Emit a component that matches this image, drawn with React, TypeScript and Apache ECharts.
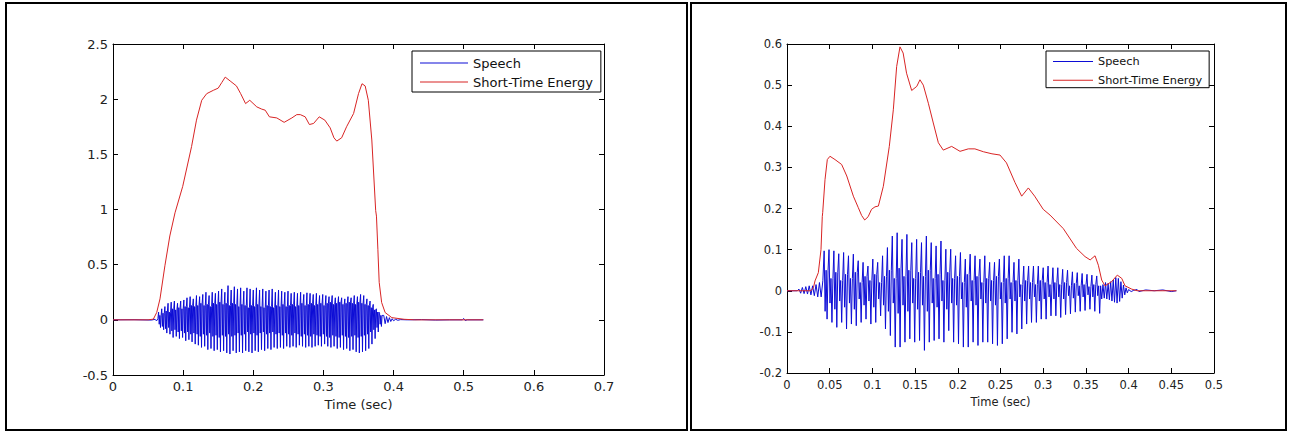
import React, { useEffect, useRef } from "react";
import * as echarts from "echarts";

// ---------- Left panel data ----------
const xTicksL = [0, 0.7, 0.1];
const yTicksL = [-0.5, 2.5, 0.5];

// Speech waveform (left): per pitch cycle peak / trough / inner band
const speechL_t0 = 0.065;
const speechL_period = 0.0045;
const speechL_tops = [
  0.07, 0.1, 0.12, 0.15, 0.16, 0.17, 0.15, 0.17, 0.18, 0.2, 0.21, 0.19, 0.22, 0.21, 0.23, 0.25, 0.22, 0.25, 0.24, 0.26,
  0.28, 0.25, 0.31, 0.27, 0.3, 0.28, 0.29, 0.26, 0.29, 0.28, 0.27, 0.29, 0.27, 0.28, 0.26, 0.27, 0.28, 0.25, 0.27, 0.26,
  0.25, 0.26, 0.24, 0.25, 0.24, 0.25, 0.23, 0.245, 0.24, 0.23, 0.24, 0.22, 0.23, 0.22, 0.21, 0.22, 0.2, 0.21, 0.2, 0.19,
  0.21, 0.2, 0.22, 0.21, 0.23, 0.22, 0.19, 0.17, 0.14, 0.1, 0.06,
];
const speechL_bottoms = [
  -0.07, -0.09, -0.12, -0.13, -0.16, -0.15, -0.17, -0.16, -0.19, -0.18, -0.2, -0.22, -0.23, -0.25, -0.24, -0.27, -0.26, -0.28, -0.27, -0.29,
  -0.28, -0.3, -0.31, -0.28, -0.3, -0.29, -0.3, -0.28, -0.29, -0.3, -0.28, -0.29, -0.27, -0.28, -0.26, -0.27, -0.25, -0.26, -0.25, -0.26,
  -0.24, -0.25, -0.24, -0.25, -0.23, -0.24, -0.25, -0.24, -0.25, -0.24, -0.23, -0.24, -0.22, -0.24, -0.25, -0.24, -0.26, -0.25, -0.27, -0.26,
  -0.28, -0.27, -0.29, -0.3, -0.29, -0.28, -0.26, -0.22, -0.17, -0.11, -0.06,
];
const speechL_inner = [
  0.04, 0.06, 0.08, 0.07, 0.1, 0.09, 0.11, 0.1, 0.12, 0.11, 0.13, 0.12, 0.13, 0.15, 0.13, 0.14, 0.12, 0.15, 0.14, 0.16,
  0.14, 0.15, 0.13, 0.15, 0.14, 0.12, 0.14, 0.13, 0.11, 0.13, 0.12, 0.14, 0.12, 0.11, 0.13, 0.12, 0.11, 0.13, 0.12, 0.14,
  0.12, 0.13, 0.14, 0.12, 0.13, 0.15, 0.13, 0.14, 0.15, 0.13, 0.14, 0.15, 0.13, 0.15, 0.16, 0.14, 0.15, 0.16, 0.14, 0.15,
  0.16, 0.15, 0.14, 0.16, 0.15, 0.14, 0.13, 0.11, 0.09, 0.07, 0.04,
];
const speechL_pre = [
  [0, 0], [0.03, 0.001], [0.055, -0.002], [0.06, 0.005], [0.062, -0.01], [0.064, 0.01],
];
const speechL_post = [
  [0.386, 0.04], [0.388, -0.035], [0.39, 0.03], [0.392, -0.025], [0.394, 0.02], [0.396, -0.015], [0.398, 0.01],
  [0.4, -0.008], [0.403, 0.005], [0.406, -0.004], [0.41, 0.002], [0.42, 0], [0.44, 0.002], [0.46, -0.002],
  [0.48, 0], [0.498, 0], [0.5, 0.012], [0.502, -0.006], [0.505, 0], [0.528, 0],
];

// Short-time energy (left)
const energyL_t = [
  0, 0.05, 0.0575, 0.0623, 0.067, 0.074, 0.081, 0.0884, 0.0994, 0.112, 0.119, 0.1265, 0.1336, 0.143, 0.15, 0.155,
  0.16, 0.167, 0.176, 0.182, 0.189, 0.195, 0.205, 0.212, 0.217, 0.223, 0.2335, 0.244, 0.255, 0.262, 0.267, 0.274,
  0.28, 0.286, 0.294, 0.302, 0.3096, 0.315, 0.319, 0.326, 0.333, 0.343, 0.35, 0.355, 0.3595, 0.364, 0.369, 0.3745,
  0.3756, 0.3776, 0.3795, 0.383, 0.388, 0.3975, 0.415, 0.43, 0.528,
];
const energyL_v = [
  0, 0, 0.006, 0.066, 0.19, 0.49, 0.76, 0.97, 1.21, 1.57, 1.81, 1.99, 2.05, 2.08, 2.1, 2.15,
  2.2, 2.165, 2.12, 2.05, 1.96, 1.99, 1.93, 1.91, 1.9, 1.84, 1.83, 1.79, 1.83, 1.86, 1.86, 1.84,
  1.77, 1.78, 1.84, 1.81, 1.74, 1.65, 1.62, 1.65, 1.75, 1.87, 2.05, 2.14, 2.12, 1.99, 1.63, 0.99,
  0.94, 0.64, 0.34, 0.157, 0.066, 0.02, 0.005, 0, 0,
];

// ---------- Right panel data ----------
const xTicksR = [0, 0.5, 0.05];
const yTicksR = [-0.2, 0.6, 0.1];

const speechR_t0 = 0.0435;
const speechR_period = 0.0057;
const speechR_tops = [
  0.097, 0.1, 0.097, 0.09, 0.093, 0.085, 0.089, 0.073, 0.069, 0.06, 0.077, 0.069, 0.085, 0.105, 0.133, 0.141, 0.125, 0.137, 0.117, 0.125,
  0.117, 0.133, 0.117, 0.109, 0.121, 0.101, 0.101, 0.085, 0.093, 0.077, 0.089, 0.085, 0.077, 0.085, 0.069, 0.069, 0.077, 0.085, 0.085, 0.069,
  0.077, 0.06, 0.06, 0.06, 0.06, 0.056, 0.06, 0.056, 0.056, 0.052, 0.05, 0.046, 0.044, 0.042, 0.04, 0.038, 0.036,
];
const speechR_bottoms = [
  -0.069, -0.077, -0.089, -0.077, -0.093, -0.081, -0.085, -0.077, -0.069, -0.081, -0.077, -0.061, -0.093, -0.109, -0.137, -0.137, -0.125, -0.117, -0.125, -0.121,
  -0.145, -0.125, -0.121, -0.117, -0.125, -0.097, -0.125, -0.129, -0.137, -0.137, -0.125, -0.133, -0.125, -0.125, -0.129, -0.133, -0.129, -0.117, -0.101, -0.105,
  -0.093, -0.081, -0.077, -0.077, -0.069, -0.069, -0.061, -0.061, -0.065, -0.058, -0.056, -0.052, -0.05, -0.048, -0.045, -0.05, -0.055,
];
const speechR_inner = [
  0.05, 0.03, 0.045, 0.025, 0.04, 0.03, 0.045, 0.02, 0.035, 0.025, 0.04, 0.02, 0.035, 0.05, 0.03, 0.055, 0.035, 0.05, 0.03, 0.045,
  0.035, 0.05, 0.03, 0.04, 0.025, 0.045, 0.03, 0.035, 0.02, 0.04, 0.025, 0.035, 0.02, 0.03, 0.025, 0.035, 0.02, 0.03, 0.02, 0.025,
  0.015, 0.025, 0.02, 0.015, 0.025, 0.02, 0.015, 0.02, 0.015, 0.02, 0.012, 0.018, 0.012, 0.015, 0.01, 0.015, 0.012,
];
const speechR_pre = [
  [0, 0], [0.012, 0], [0.014, 0.004], [0.016, -0.006], [0.018, 0.008], [0.02, -0.007], [0.022, 0.01], [0.024, -0.008],
  [0.026, 0.012], [0.028, -0.01], [0.03, 0.012], [0.032, -0.012], [0.034, 0.015], [0.036, -0.015], [0.038, 0.02],
  [0.04, -0.015], [0.042, 0.025],
];
const speechR_post = [
  [0.3685, -0.02], [0.37, 0.015], [0.3715, -0.018], [0.373, 0.02], [0.3745, -0.02], [0.376, 0.018], [0.3775, -0.022],
  [0.379, 0.022], [0.3805, -0.025], [0.382, 0.026], [0.3835, -0.028], [0.385, 0.032], [0.3865, -0.03], [0.388, 0.03],
  [0.3895, -0.026], [0.391, 0.022], [0.3925, -0.018], [0.394, 0.014], [0.3955, -0.01], [0.397, 0.007], [0.3985, -0.005],
  [0.4, 0.003], [0.403, -0.002], [0.406, 0.001], [0.41, 0.003], [0.412, -0.002], [0.42, 0.002], [0.43, 0], [0.44, 0.002],
  [0.45, -0.002], [0.456, 0],
];

const energyR_t = [
  0, 0.028, 0.031, 0.0328, 0.0367, 0.0398, 0.0413, 0.0418, 0.0445, 0.0472, 0.0503, 0.0562, 0.064, 0.07, 0.0777, 0.0835,
  0.0874, 0.091, 0.095, 0.099, 0.103, 0.107, 0.1128, 0.1198, 0.1245, 0.1284, 0.1323, 0.136, 0.14, 0.146, 0.152, 0.1557,
  0.1596, 0.1655, 0.1713, 0.1772, 0.183, 0.1928, 0.2026, 0.2123, 0.22, 0.23, 0.24, 0.2494, 0.257, 0.267, 0.2748, 0.2826,
  0.29, 0.3, 0.308, 0.3236, 0.339, 0.349, 0.355, 0.3607, 0.3646, 0.3685, 0.3724, 0.38, 0.3868, 0.392, 0.3958, 0.4036,
  0.41, 0.456,
];
const energyR_v = [
  0, 0, 0.008, 0.024, 0.044, 0.1, 0.18, 0.19, 0.27, 0.319, 0.327, 0.319, 0.307, 0.279, 0.23, 0.202,
  0.183, 0.172, 0.18, 0.198, 0.204, 0.206, 0.254, 0.351, 0.44, 0.545, 0.593, 0.578, 0.529, 0.487, 0.497, 0.513,
  0.5, 0.456, 0.408, 0.36, 0.342, 0.351, 0.339, 0.345, 0.345, 0.338, 0.333, 0.33, 0.311, 0.263, 0.23, 0.25,
  0.23, 0.198, 0.184, 0.151, 0.103, 0.083, 0.075, 0.085, 0.062, 0.026, 0.012, 0.022, 0.038, 0.03, 0.012, 0.004,
  0, 0,
];

const SERIES_SPEECH = "Speech";
const SERIES_ENERGY = "Short-Time Energy";

function buildSpeech(pre: number[][], t0: number, period: number, tops: number[], bottoms: number[], inner: number[], post: number[][]) {
  const pts: number[][] = pre.map((p) => [p[0], p[1]]);
  const step = period / 5;
  for (let i = 0; i < tops.length; i++) {
    const base = t0 + i * period;
    pts.push([base, tops[i]]);
    pts.push([base + step, -inner[i]]);
    pts.push([base + 2 * step, inner[i]]);
    pts.push([base + 3 * step, bottoms[i]]);
    pts.push([base + 4 * step, inner[i]]);
  }
  post.forEach((p) => pts.push([p[0], p[1]]));
  return pts;
}

function zip(ts: number[], vs: number[]) {
  return ts.map((t, i) => [t, vs[i]]);
}

const FONT = "DejaVu Sans";
const BLUE = "#0c0cd6";
const RED = "#d82424";

function axisPair(gridIndex: number, ticks: number[], fontSize: number, margin: number, isX: boolean, nameGap: number) {
  const common = {
    gridIndex,
    type: "value" as const,
    min: ticks[0],
    max: ticks[1],
    interval: ticks[2],
    splitLine: { show: false },
    axisLine: { show: true, onZero: false, lineStyle: { color: "#000", width: 1 } },
    axisTick: { show: true, inside: true, length: 5, lineStyle: { color: "#000", width: 1 } },
  };
  const main: any = {
    ...common,
    position: isX ? "bottom" : "left",
    axisLabel: { show: true, color: "#222", fontFamily: FONT, fontSize, margin },
  };
  if (isX) {
    main.name = "Time (sec)";
    main.nameLocation = "middle";
    main.nameGap = nameGap;
    main.nameTextStyle = { color: "#222", fontFamily: FONT, fontSize };
  }
  const mirror: any = {
    ...common,
    position: isX ? "top" : "right",
    axisLabel: { show: false },
  };
  return [main, mirror];
}

function legendFor(left: number, padding: number[], itemWidth: number, itemGap: number, fontSize: number, lineHeight: number) {
  return {
    orient: "vertical",
    left,
    top: 51,
    padding,
    icon: "rect",
    itemWidth,
    itemHeight: 1,
    itemGap,
    selectedMode: false,
    borderColor: "#000",
    borderWidth: 1,
    borderRadius: 0,
    backgroundColor: "#fff",
    data: [SERIES_SPEECH, SERIES_ENERGY],
    textStyle: { fontFamily: FONT, fontSize, lineHeight, color: "#111" },
  };
}

export default function App() {
  const ref = useRef<HTMLDivElement>(null);

  useEffect(() => {
    if (!ref.current) return;
    const chart = echarts.init(ref.current, undefined, { renderer: "svg" });

    const [xL, xLt] = axisPair(0, xTicksL, 13, 5, true, 22);
    const [yL, yLr] = axisPair(0, yTicksL, 13, 5, false, 0);
    const [xR, xRt] = axisPair(1, xTicksR, 11.5, 6, true, 22);
    const [yR, yRr] = axisPair(1, yTicksR, 11.5, 5, false, 0);

    const option: any = {
      animation: false,
      backgroundColor: "#ffffff",
      grid: [
        { left: 113, top: 44, width: 491, height: 331 },
        { left: 787, top: 44, width: 427, height: 329 },
      ],
      xAxis: [xL, xLt, xR, xRt],
      yAxis: [yL, yLr, yR, yRr],
      legend: [
        legendFor(412, [5, 8, 3, 8], 48, 5, 13, 14),
        legendFor(1046, [4, 7, 1, 7], 40, 5.7, 11.3, 13),
      ],
      graphic: [
        { type: "rect", shape: { x: 6, y: 3, width: 681, height: 427 }, style: { fill: "none", stroke: "#000", lineWidth: 2 }, silent: true },
        { type: "rect", shape: { x: 691, y: 3, width: 595, height: 427 }, style: { fill: "none", stroke: "#000", lineWidth: 2 }, silent: true },
      ],
      series: [
        {
          name: SERIES_SPEECH,
          type: "line",
          xAxisIndex: 0,
          yAxisIndex: 0,
          symbol: "none",
          showSymbol: false,
          lineStyle: { color: BLUE, width: 1 },
          itemStyle: { color: BLUE },
          data: buildSpeech(speechL_pre, speechL_t0, speechL_period, speechL_tops, speechL_bottoms, speechL_inner, speechL_post),
        },
        {
          name: SERIES_ENERGY,
          type: "line",
          xAxisIndex: 0,
          yAxisIndex: 0,
          symbol: "none",
          showSymbol: false,
          lineStyle: { color: RED, width: 1 },
          itemStyle: { color: RED },
          data: zip(energyL_t, energyL_v),
        },
        {
          name: SERIES_SPEECH,
          type: "line",
          xAxisIndex: 2,
          yAxisIndex: 2,
          symbol: "none",
          showSymbol: false,
          lineStyle: { color: BLUE, width: 1 },
          itemStyle: { color: BLUE },
          data: buildSpeech(speechR_pre, speechR_t0, speechR_period, speechR_tops, speechR_bottoms, speechR_inner, speechR_post),
        },
        {
          name: SERIES_ENERGY,
          type: "line",
          xAxisIndex: 2,
          yAxisIndex: 2,
          symbol: "none",
          showSymbol: false,
          lineStyle: { color: RED, width: 1 },
          itemStyle: { color: RED },
          data: zip(energyR_t, energyR_v),
        },
      ],
    };

    chart.setOption(option);
    return () => {
      chart.dispose();
    };
  }, []);

  return (
    <div
      ref={ref}
      style={{ position: "fixed", left: 0, top: 0, width: 1296, height: 432, background: "#fff" }}
    />
  );
}
